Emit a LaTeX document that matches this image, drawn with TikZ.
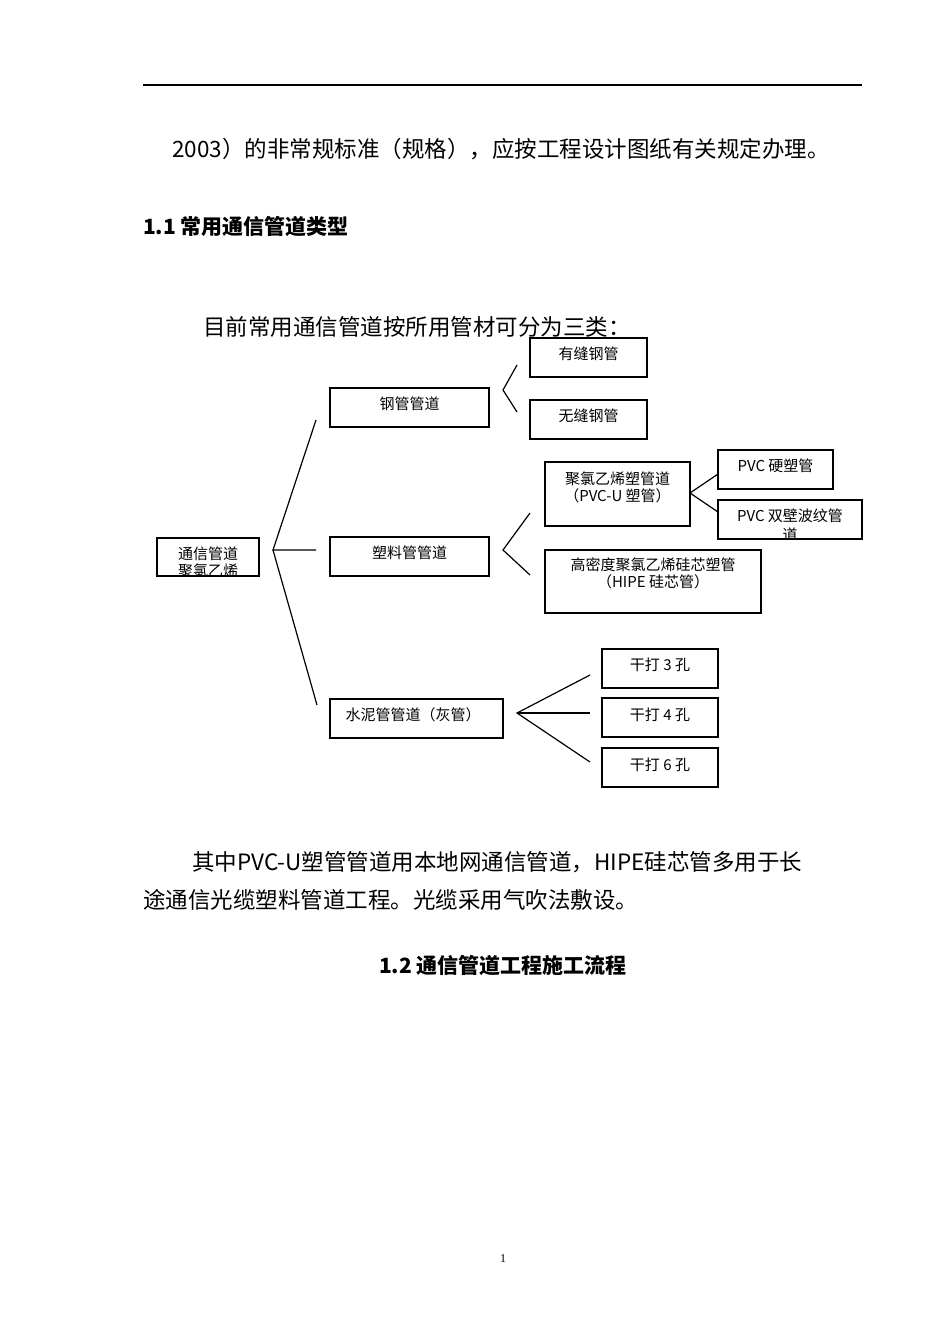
\documentclass[tikz,border=0pt]{standalone}
\usepackage{fontspec}
\setmainfont{Liberation Serif}
\newfontfamily\cjk{Noto Sans CJK SC}
\begin{document}
\begin{tikzpicture}[x=1pt,y=-1pt,
  bx/.style={draw,line width=1.2pt},
  bt/.style={font=\cjk\fontsize{15}{17}\selectfont,anchor=base,inner sep=0pt,align=center},
  body/.style={font=\cjk\fontsize{22.5}{26}\selectfont,anchor=base west,inner sep=0pt},
  ln/.style={line width=1.2pt}]
\useasboundingbox (0,0) rectangle (950,1344);
\draw[line width=1.2pt] (143,85) -- (862,85);
\node[body] (t1) at (172,157) {2003）的非常规标准（规格），应按工程设计图纸有关规定办理。};
\node[body,font=\cjk\bfseries\fontsize{21}{24}\selectfont] (h1) at (143,234) {1.1 常用通信管道类型};
\node[body] (t2) at (203,335) {目前常用通信管道按所用管材可分为三类：};
% boxes
\draw[bx] (530,338) rectangle (647,377); \node[bt] (a1) at (588.5,359) {有缝钢管};
\draw[bx] (530,400) rectangle (647,439); \node[bt] (a2) at (588.5,421) {无缝钢管};
\draw[bx] (330,388) rectangle (489,427); \node[bt] (b1) at (409.5,409) {钢管管道};
\draw[bx] (545,462) rectangle (690,526); \node[bt] (c1) at (617.5,484) {聚氯乙烯塑管道}; \node[bt] (c1b) at (617.5,501) {（PVC-U 塑管）};
\draw[bx] (718,450) rectangle (833,489); \node[bt] (d1) at (775.5,471) {PVC 硬塑管};
\draw[bx] (718,500) rectangle (862,539);
\begin{scope}\clip (718,500) rectangle (862,538.5);
\node[bt] (d2) at (790,521) {PVC 双壁波纹管}; \node[bt] (d2b) at (790,540) {道};
\end{scope}
\draw[bx] (545,550) rectangle (761,613); \node[bt] (e1) at (653,570) {高密度聚氯乙烯硅芯塑管}; \node[bt] (e1b) at (653,587) {（HIPE 硅芯管）};
\draw[bx] (330,537) rectangle (489,576); \node[bt] (b2) at (409.5,558) {塑料管管道};
\draw[bx] (157,538) rectangle (259,576);
\begin{scope}\clip (157,538) rectangle (259,575.5);
\node[bt] (r) at (208,559) {通信管道}; \node[bt] (rb) at (208,576) {聚氯乙烯};
\end{scope}
\draw[bx] (330,699) rectangle (503,738); \node[bt] (b3) at (413,720) {水泥管管道（灰管）};
\draw[bx] (602,649) rectangle (718,688); \node[bt] (f1) at (660,670) {干打 3 孔};
\draw[bx] (602,698) rectangle (718,737); \node[bt] (f2) at (660,720) {干打 4 孔};
\draw[bx] (602,748) rectangle (718,787); \node[bt] (f3) at (660,770) {干打 6 孔};
% connectors
\coordinate (p0) at (273,550);
\draw[ln] (316,420) -- (p0) -- (316,550); \draw[ln] (p0) -- (317,705);
\draw[ln] (517,365) -- (503,390) -- (517,412);
\draw[ln] (530,513) -- (503,550) -- (530,575);
\draw[ln] (718,474) -- (690,493) -- (718,512);
\coordinate (q0) at (517,713);
\draw[ln] (590,675) -- (q0) -- (590,762); \draw[ln] (q0) -- (590,713);
\node[body] (t3) at (192,870) {其中PVC-U塑管管道用本地网通信管道，HIPE硅芯管多用于长};
\node[body] (t4) at (143,908) {途通信光缆塑料管道工程。光缆采用气吹法敷设。};
\node[body,anchor=base,font=\cjk\bfseries\fontsize{21}{24}\selectfont] (h2) at (503,973) {1.2 通信管道工程施工流程};
\node[anchor=base,inner sep=0pt,font=\fontsize{12}{14}\selectfont] (pg) at (503,1262) {1};
\end{tikzpicture}
\end{document}
